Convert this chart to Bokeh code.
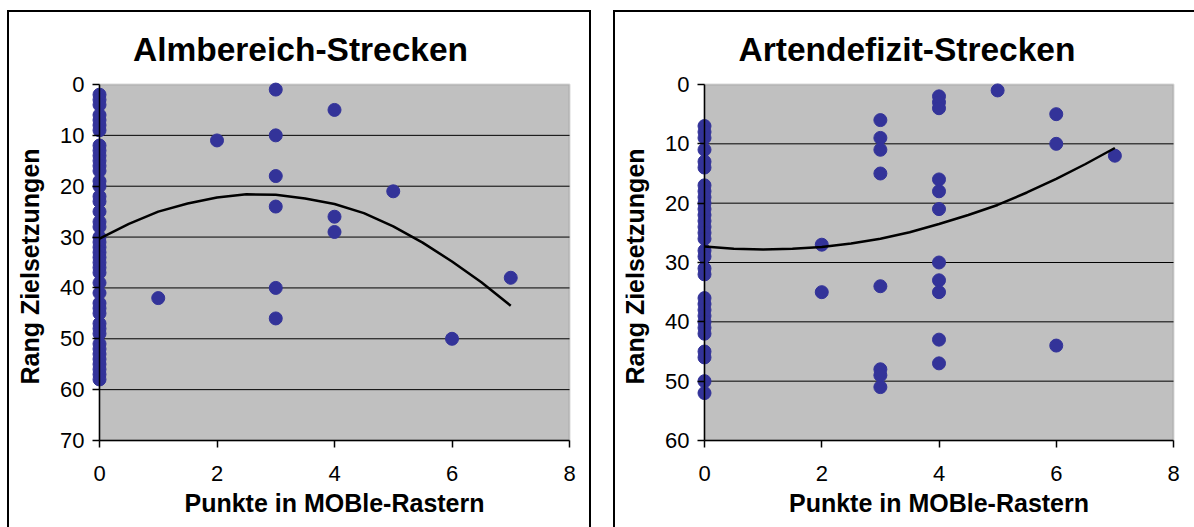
import math
from bokeh.plotting import figure
from bokeh.models import Range1d, FixedTicker, ColumnDataSource, Spacer, BoxAnnotation
from bokeh.core.properties import value
from bokeh.layouts import row, column
from bokeh.embed import file_html
from bokeh.resources import INLINE

# ---------------- data ----------------
alm_title = "Almbereich-Strecken"
alm_punkte = ([0] * 44 + [1] + [2] + [3] * 6 + [4] * 3 + [5] + [6] + [7])
alm_rang = [2, 3, 4, 6, 7, 8, 9, 12, 13, 14, 15, 16, 17, 19, 20, 22, 23, 25, 27, 28,
            30, 31, 32, 33, 34, 35, 36, 37, 39, 41, 43, 44, 45, 47, 48, 49, 51, 52,
            53, 54, 55, 56, 57, 58,
            42,
            11,
            1, 10, 18, 24, 40, 46,
            5, 26, 29,
            21,
            50,
            38]
alm_trend_x = [0, 0.5, 1, 1.5, 2, 2.5, 3, 3.5, 4, 4.5, 5, 5.5, 6, 6.5, 7]
alm_trend_y = [30.3, 27.4, 25.0, 23.4, 22.2, 21.6, 21.7, 22.4, 23.5, 25.3, 27.9, 31.1, 34.8, 38.9, 43.5]

art_title = "Artendefizit-Strecken"
art_punkte = ([0] * 31 + [2] * 2 + [3] * 8 + [4] * 11 + [5] + [6] * 3 + [7])
art_rang = [7, 8, 9, 11, 13, 14, 17, 18, 19, 20, 21, 22, 23, 24, 25, 26, 28, 29, 31, 32,
            36, 37, 38, 39, 40, 41, 42, 45, 46, 50, 52,
            27, 35,
            6, 9, 11, 15, 34, 48, 49, 51,
            2, 3, 4, 16, 18, 21, 30, 33, 35, 43, 47,
            1,
            5, 10, 44,
            12]
art_trend_x = [0, 0.5, 1, 1.5, 2, 2.5, 3, 3.5, 4, 4.5, 5, 5.5, 6, 6.5, 7]
art_trend_y = [27.3, 27.7, 27.8, 27.7, 27.4, 26.8, 26.0, 24.9, 23.5, 22.0, 20.3, 18.2, 15.9, 13.4, 10.7]

x_ticks = [0, 2, 4, 6, 8]
alm_y_ticks = [0, 10, 20, 30, 40, 50, 60, 70]
art_y_ticks = [0, 10, 20, 30, 40, 50, 60]

x_label = "Punkte in MOBle-Rastern"
y_label = "Rang Zielsetzungen"

FONT = "Liberation Sans"
DOT = "#333399"
X_MIN, X_MAX = 0, 8

# layout (pixels inside each figure)
FIG_H = 515
B_LEFT, B_RIGHT, B_TOP, B_BOTTOM = 10, 2, 2, 10
AREA_TOP = 72           # rank 0 measured from figure's top edge
AREA_H = 356


def make_chart(title, px, py, tx, ty, ymax, yticks, fig_w, area_left, area_w, title_dx):
    frame_w = fig_w - B_LEFT - B_RIGHT
    frame_h = FIG_H - B_TOP - B_BOTTOM
    xppu = area_w / (X_MAX - X_MIN)
    yppu = AREA_H / ymax
    x_start = X_MIN - (area_left - B_LEFT) / xppu
    x_end = x_start + frame_w / xppu
    y_top = 0 - (AREA_TOP - B_TOP) / yppu
    y_bottom = y_top + frame_h / yppu

    p = figure(width=fig_w, height=FIG_H, frame_width=frame_w, frame_height=frame_h,
               min_border_left=B_LEFT, min_border_right=B_RIGHT,
               min_border_top=B_TOP, min_border_bottom=B_BOTTOM,
               x_range=Range1d(x_start, x_end), y_range=Range1d(y_bottom, y_top),
               output_backend="svg", toolbar_location=None)
    p.styles = {"outline": "2px solid black"}
    p.background_fill_color = "white"
    p.border_fill_color = "white"
    p.outline_line_color = None
    p.xgrid.visible = False
    p.ygrid.visible = False

    # grey plot area with grey border (top/right visible)
    p.add_layout(BoxAnnotation(left=X_MIN, right=X_MAX, top=0, bottom=ymax,
                               fill_color="#C0C0C0", fill_alpha=1,
                               line_color="#808080", line_width=2,
                               level="underlay"))
    inner = yticks[1:-1]
    p.segment(x0=[X_MIN] * len(inner), y0=inner, x1=[X_MAX] * len(inner), y1=inner,
              line_color="black", line_width=1)

    for ax in (p.xaxis[0], p.yaxis[0]):
        ax.axis_line_color = "black"
        ax.axis_line_width = 1.5
        ax.major_tick_line_color = "black"
        ax.major_tick_line_width = 1.5
        ax.major_tick_in = 0
        ax.major_tick_out = 7
        ax.minor_tick_line_color = None
        ax.major_label_standoff = 0
    p.xaxis.ticker = FixedTicker(ticks=x_ticks)
    p.xaxis.bounds = (X_MIN, X_MAX)
    p.xaxis.fixed_location = ymax
    p.xaxis.major_label_overrides = {t: "" for t in x_ticks}
    p.yaxis.ticker = FixedTicker(ticks=yticks)
    p.yaxis.bounds = (0, ymax)
    p.yaxis.fixed_location = X_MIN
    p.yaxis.major_label_overrides = {t: "" for t in yticks}

    # tick labels
    p.text(x=[X_MIN] * len(yticks), y=yticks, text=[str(t) for t in yticks],
           x_offset=-15, text_align="right", text_baseline="middle",
           text_font=value(FONT), text_font_size="22px", text_color="black")
    p.text(x=x_ticks, y=[ymax] * len(x_ticks), text=[str(t) for t in x_ticks],
           y_offset=33, text_align="center", text_baseline="middle",
           text_font=value(FONT), text_font_size="22px", text_color="black")
    # axis titles
    p.text(x=[X_MIN], y=[ymax / 2], text=[y_label], angle=math.pi / 2,
           x_offset=-70, y_offset=4, text_align="center", text_baseline="middle",
           text_font=value(FONT), text_font_size="25px", text_font_style="bold",
           text_color="black")
    p.text(x=[(X_MIN + X_MAX) / 2], y=[ymax], text=[x_label],
           y_offset=62, text_align="center", text_baseline="middle",
           text_font=value(FONT), text_font_size="25px", text_font_style="bold",
           text_color="black")
    # chart title
    p.text(x=[(X_MIN + X_MAX) / 2], y=[0], text=[title],
           x_offset=title_dx, y_offset=-35, text_align="center", text_baseline="middle",
           text_font=value(FONT), text_font_size="33.5px", text_font_style="bold",
           text_color="black")

    src = ColumnDataSource(dict(x=px, y=py))
    p.scatter("x", "y", source=src, size=13, fill_color=DOT, line_color=DOT)
    p.line(tx, ty, line_color="black", line_width=2.5)
    return p


# left chart: figure x 9..589, plot area x 99..569
p1 = make_chart(alm_title, alm_punkte, alm_rang, alm_trend_x, alm_trend_y,
                70, alm_y_ticks, 580, 90, 470, -34)
# right chart: figure x 615..1194 (right border outside the view), plot area x 704..1173
p2 = make_chart(art_title, art_punkte, art_rang, art_trend_x, art_trend_y,
                60, art_y_ticks, 579, 89, 469, -32)

layout = column(Spacer(height=12),
                row(Spacer(width=9), p1, Spacer(width=26), p2, spacing=0),
                spacing=0)

open("out.html", "w").write(file_html(layout, INLINE))
